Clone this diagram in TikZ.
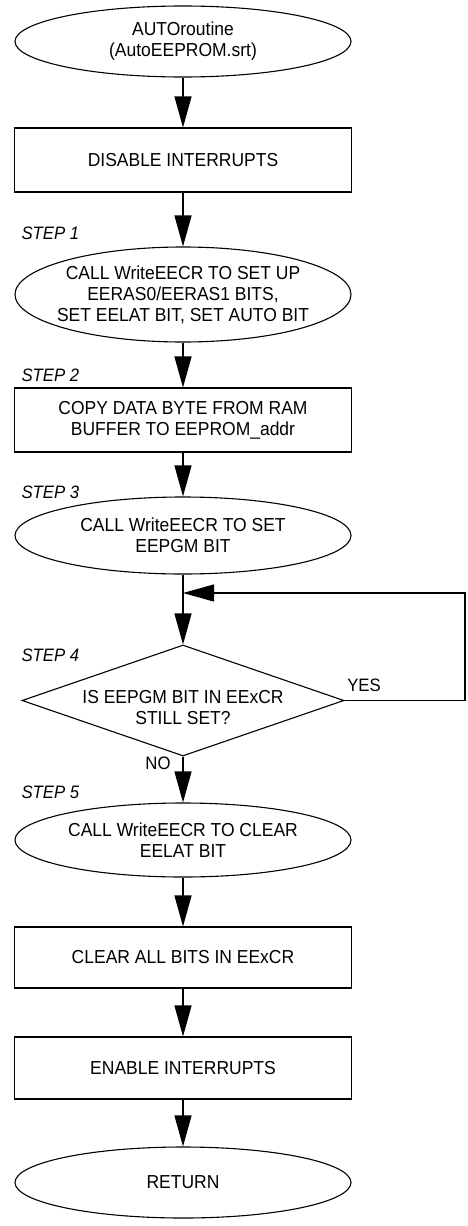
\documentclass[tikz,border=0pt]{standalone}
\usepackage{fontspec}
\setmainfont{Liberation Sans}[FakeStretch=0.93]
\usetikzlibrary{shapes.geometric,arrows.meta,calc}
\begin{document}
\begin{tikzpicture}[x=1pt,y=-1pt,
  line width=1.1pt,
  every node/.style={font=\fontsize{18.8}{21}\selectfont},
  oval/.style={draw,ellipse,inner ysep=0pt,inner xsep=-20pt,minimum width=336pt,align=center},
  procbox/.style={draw,rectangle,inner sep=0pt,minimum width=337pt,align=center},
  decide/.style={draw,diamond,inner sep=0pt,minimum width=322pt,minimum height=111pt},
  steplbl/.style={anchor=west,font=\fontsize{18}{20}\selectfont\itshape,inner sep=0pt},
  ynlbl/.style={font=\fontsize{18}{20}\selectfont,inner sep=0pt},
  flow/.style={-{Triangle[length=31pt,width=17pt]}}
]
\useasboundingbox (0,0) rectangle (467,1226);

\node[oval,minimum height=71pt] (start) at (183,41.5) {AUTOroutine\\(AutoEEPROM.srt)};
\node[procbox,minimum height=64pt] (dis) at (183,160) {DISABLE INTERRUPTS};
\node[oval,minimum height=95pt] (s1) at (183,294.5) {CALL WriteEECR TO SET UP\\EERAS0/EERAS1 BITS,\\SET EELAT BIT, SET AUTO BIT};
\node[procbox,minimum height=64pt] (s2) at (183,420) {COPY DATA BYTE FROM RAM\\BUFFER TO EEPROM\_addr};
\node[oval,minimum height=77pt] (s3) at (183,535.5) {CALL WriteEECR TO SET\\EEPGM BIT};
\node[decide] (s4) at (183,700.5) {};
\node[align=center,inner sep=0pt] (s4txt) at (183,708) {IS EEPGM BIT IN EExCR\\STILL SET?};
\node[oval,minimum height=74pt] (s5) at (183,840) {CALL WriteEECR TO CLEAR\\EELAT BIT};
\node[procbox,minimum height=61pt] (clr) at (183,957.5) {CLEAR ALL BITS IN EExCR};
\node[procbox,minimum height=62pt] (ena) at (183,1068) {ENABLE INTERRUPTS};
\node[oval,minimum height=71pt] (ret) at (183,1182.5) {RETURN};

\node[steplbl] (l1) at (21,233) {STEP 1};
\node[steplbl] (l2) at (21,375) {STEP 2};
\node[steplbl] (l3) at (21,492) {STEP 3};
\node[steplbl] (l4) at (21,655) {STEP 4};
\node[steplbl] (l5) at (21,792) {STEP 5};

\node[ynlbl] (yes) at (364,685) {YES};
\node[ynlbl] (no) at (158,763) {NO};

\coordinate (loopin) at (183,593);
\coordinate (loopcorner) at (465,593);

\draw[flow] (start) -- (dis);
\draw[flow] (dis) -- (s1);
\draw[flow] (s1) -- (s2);
\draw[flow] (s2) -- (s3);
\draw[flow] (s3) -- (s4);
\draw[flow] (s4.east) -| (loopcorner) -- (loopin);
\draw[flow] (s4) -- (s5);
\draw[flow] (s5) -- (clr);
\draw[flow] (clr) -- (ena);
\draw[flow] (ena) -- (ret);
\end{tikzpicture}
\end{document}
